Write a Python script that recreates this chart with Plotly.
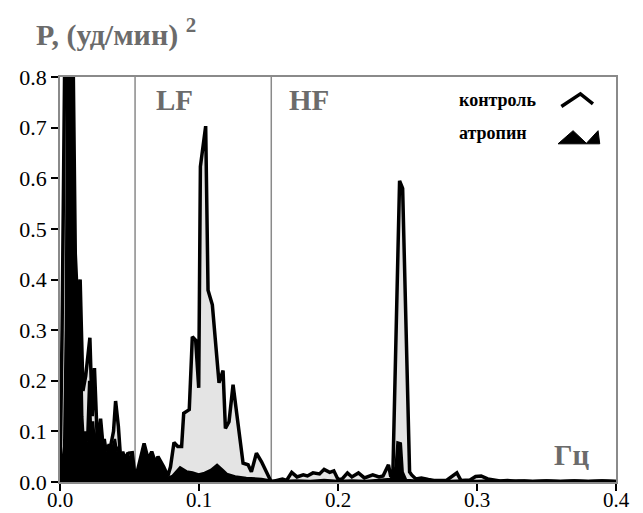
import plotly.graph_objects as go

# ---- data ----
control_x = [0.0, 0.0015, 0.0038, 0.0090, 0.0110, 0.0125, 0.0145, 0.0165, 0.0185, 0.0215,
             0.0232, 0.0248, 0.027, 0.0292, 0.031, 0.0335, 0.036, 0.0385, 0.040, 0.042,
             0.0435, 0.047, 0.0495, 0.052, 0.0542, 0.0565, 0.0605, 0.0634, 0.066, 0.0687,
             0.0705, 0.0746, 0.0776, 0.0795, 0.082, 0.0847, 0.0875, 0.089, 0.093, 0.0952,
             0.0976, 0.0998, 0.101, 0.1048, 0.1065, 0.1096, 0.1144, 0.1173, 0.119, 0.1216,
             0.1245, 0.1317, 0.1353, 0.1377, 0.1413, 0.145, 0.1497, 0.152, 0.156, 0.160,
             0.163, 0.1667, 0.1705, 0.175, 0.178, 0.182, 0.1867, 0.190, 0.194, 0.197,
             0.200, 0.203, 0.2068, 0.210, 0.2147, 0.219, 0.225, 0.2295, 0.2324, 0.2363,
             0.238, 0.2395, 0.2443, 0.2465, 0.2515, 0.253, 0.256, 0.260, 0.265, 0.269,
             0.278, 0.2855, 0.2885, 0.295, 0.299, 0.303, 0.3077, 0.3165, 0.322, 0.328,
             0.334, 0.340, 0.350, 0.360, 0.370, 0.380, 0.390, 0.400]
control_y = [0.0, 0.30, 0.95, 0.95, 0.45, 0.36, 0.40, 0.18, 0.21, 0.285,
             0.13, 0.225, 0.07, 0.125, 0.07, 0.07, 0.065, 0.10, 0.16, 0.11,
             0.05, 0.05, 0.057, 0.058, 0.005, 0.03, 0.076, 0.045, 0.06, 0.038,
             0.05, 0.03, 0.012, 0.03, 0.078, 0.07, 0.07, 0.136, 0.143, 0.287,
             0.28, 0.186, 0.623, 0.703, 0.379, 0.35, 0.196, 0.22, 0.106, 0.119,
             0.192, 0.037, 0.034, 0.020, 0.057, 0.04, 0.014, 0.0, 0.003, 0.006,
             0.003, 0.019, 0.010, 0.014, 0.012, 0.018, 0.016, 0.025, 0.019, 0.022,
             0.005, 0.006, 0.018, 0.010, 0.018, 0.008, 0.014, 0.010, 0.012, 0.034,
             0.010, 0.020, 0.595, 0.58, 0.020, 0.014, 0.006, 0.008, 0.005, 0.003,
             0.003, 0.018, 0.003, 0.004, 0.011, 0.012, 0.006, 0.002, 0.003, 0.001,
             0.002, 0.001, 0.002, 0.001, 0.002, 0.001, 0.002, 0.001]

atropine_x = [0.0, 0.0015, 0.003, 0.0042, 0.0055, 0.0088, 0.0105, 0.0125, 0.0143, 0.016,
              0.0172, 0.018, 0.0195, 0.021, 0.0225, 0.0238, 0.0252, 0.0265, 0.028, 0.0295,
              0.031, 0.0322, 0.0335, 0.035, 0.0365, 0.0380, 0.0395, 0.041, 0.0425, 0.0440,
              0.0455, 0.047, 0.0485, 0.0500, 0.0515, 0.0530, 0.0542,
              0.0565, 0.0605, 0.0634, 0.066, 0.0687, 0.0705, 0.0746, 0.0776,
              0.081, 0.0864, 0.091, 0.0953, 0.0997, 0.104, 0.1086, 0.113, 0.117, 0.120,
              0.126, 0.134, 0.145, 0.151, 0.160, 0.170, 0.180, 0.190, 0.200, 0.210,
              0.220, 0.230, 0.238, 0.2415, 0.2428, 0.2452, 0.2465, 0.249, 0.260, 0.270,
              0.280, 0.290, 0.300, 0.310, 0.320, 0.330, 0.340, 0.350, 0.360, 0.370,
              0.380, 0.390, 0.400]
atropine_y = [0.0, 0.04, 0.07, 0.30, 0.95, 0.95, 0.45, 0.33, 0.38, 0.13,
              0.07, 0.10, 0.08, 0.20, 0.09, 0.12, 0.07, 0.10, 0.08, 0.11,
              0.065, 0.085, 0.06, 0.075, 0.055, 0.07, 0.085, 0.06, 0.07, 0.05,
              0.06, 0.045, 0.058, 0.045, 0.055, 0.03, 0.0,
              0.02, 0.07, 0.04, 0.055, 0.035, 0.045, 0.025, 0.008,
              0.012, 0.029, 0.021, 0.019, 0.015, 0.018, 0.024, 0.034, 0.024, 0.016,
              0.011, 0.008, 0.006, 0.003, 0.002, 0.003, 0.002, 0.004, 0.002, 0.003,
              0.002, 0.004, 0.006, 0.03, 0.078, 0.076, 0.02, 0.004, 0.002, 0.003,
              0.002, 0.003, 0.002, 0.003, 0.002, 0.003, 0.002, 0.003, 0.002, 0.003,
              0.002, 0.003, 0.002]

band_edges = [0.054, 0.152]
x_ticks = [0.0, 0.1, 0.2, 0.3, 0.4]
y_ticks = [0.0, 0.1, 0.2, 0.3, 0.4, 0.5, 0.6, 0.7, 0.8]

SERIF = "Liberation Serif"
GRAY_TXT = "#6b6b6b"
FRAME = "#8a8a8a"

fig = go.Figure()
fig.add_trace(go.Scatter(x=control_x, y=control_y, mode="lines", fill="tozeroy",
                         fillcolor="#e4e4e4", line=dict(color="black", width=3.5),
                         showlegend=False, hoverinfo="skip"))
fig.add_trace(go.Scatter(x=atropine_x, y=atropine_y, mode="lines", fill="tozeroy",
                         fillcolor="black", line=dict(color="black", width=2.5),
                         showlegend=False, hoverinfo="skip"))

for xe in band_edges:
    fig.add_shape(type="line", xref="x", yref="y", x0=xe, x1=xe, y0=0, y1=0.8,
                  line=dict(color=FRAME, width=1.5), layer="below")

# legend glyphs
fig.add_shape(type="path", xref="x", yref="y",
              path="M 0.3607 0.7417 L 0.3744 0.7668 L 0.3834 0.7470",
              line=dict(color="black", width=3.5))
fig.add_shape(type="path", xref="x", yref="y",
              path="M 0.3583 0.668 L 0.3691 0.694 L 0.3787 0.669 L 0.3871 0.694 L 0.3883 0.668 Z",
              fillcolor="black", line=dict(color="black", width=1))

annots = [
    dict(text="LF", x=0.0826, y=0.755),
    dict(text="HF", x=0.179, y=0.755),
    dict(text="Гц", x=0.368, y=0.054),
]
for a in annots:
    fig.add_annotation(xref="x", yref="y", showarrow=False, xanchor="center",
                       yanchor="middle", x=a["x"], y=a["y"],
                       text="<b>" + a["text"] + "</b>",
                       font=dict(family=SERIF, size=29, color=GRAY_TXT))

fig.add_annotation(xref="x", yref="y", showarrow=False, xanchor="left", yanchor="middle",
                   x=0.2855, y=0.754, text="<b>контроль</b>",
                   font=dict(family=SERIF, size=18, color="black"))
fig.add_annotation(xref="x", yref="y", showarrow=False, xanchor="left", yanchor="middle",
                   x=0.2855, y=0.689, text="<b>атропин</b>",
                   font=dict(family=SERIF, size=18, color="black"))

fig.add_annotation(xref="paper", yref="paper", showarrow=False, xanchor="left",
                   yanchor="middle", x=-0.046, y=1.11,
                   text="<b>P, (уд/мин) <sup>2</sup></b>",
                   font=dict(family=SERIF, size=30, color=GRAY_TXT))

fig.update_layout(
    width=643, height=513,
    margin=dict(l=60, r=27, t=77, b=31, autoexpand=False),
    paper_bgcolor="white", plot_bgcolor="white",
    font=dict(family=SERIF, size=22, color="black"),
    xaxis=dict(range=[0, 0.4], tickvals=x_ticks, tickformat=".1f", ticks="outside",
               ticklen=7, tickwidth=1.5, tickcolor="black", showgrid=False,
               zeroline=False, showline=True, linecolor=FRAME, linewidth=1.5,
               mirror=True, tickfont=dict(family=SERIF, size=21),
               ticklabelstandoff=-9),
    yaxis=dict(range=[0, 0.8], tickvals=y_ticks, tickformat=".1f", ticks="outside",
               ticklen=7, tickwidth=1.5, tickcolor="black", showgrid=False,
               zeroline=False, showline=True, linecolor=FRAME, linewidth=1.5,
               mirror=True, tickfont=dict(family=SERIF, size=22)),
)

fig.write_html("out.html", config={"displayModeBar": False},
               post_script="document.body.style.margin='0';")
